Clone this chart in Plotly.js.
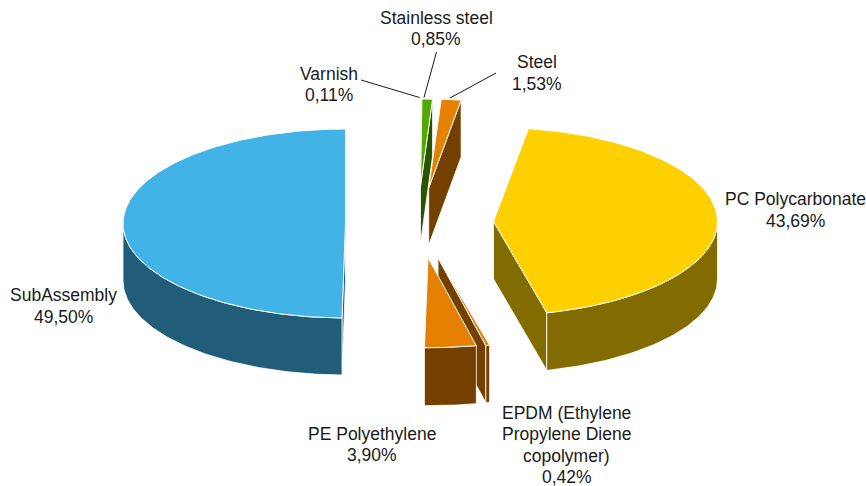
<!DOCTYPE html>
<html>
<head>
<meta charset="utf-8">
<script src="https://cdn.plot.ly/plotly-3.0.1.min.js"></script>
<style>html,body{margin:0;padding:0;background:#fff}#c{width:866px;height:486px}</style>
</head>
<body>
<div id="c"></div>
<script>
// Data (clockwise from 12 o'clock)
var materials = ['Varnish','Stainless steel','Steel','PC Polycarbonate','EPDM (Ethylene|Propylene Diene|copolymer)','PE Polyethylene','SubAssembly'];
var shares = [0.11,0.85,1.53,43.69,0.42,3.90,49.50];

// Styles
var topColors  = ['#7FB24C','#55A800','#E68000','#FFD000','#E68000','#E68000','#41B3E6'];
var wallColors = ['#2A5400','#2A5400','#734000','#826C00','#734000','#734000','#215C78'];

// Layout of the exploded pie (plot units = pixels)
var apexX = [420.5,420.5,428.7,493.5,438,428,345.5];
var apexY = [186,186,188,221.5,257.7,257.7,223.5];
var radX  = [200,200,208,224,222,228,222.5];
var radY  = [87,87,89,94,90,90,94.5];
var startTrim = [0,0,0,0,0.3,0,-0.9];   // perspective correction of the drawn edges, degrees
var endTrim   = [0,0,0,0,-0.2,-0.9,0];
var depth = [57,57,57,57.5,57,58,57];
var paintOrder = [0,1,2,4,5,3,6];
var labelX = [329,436,537,795.5,566.5,372,63];
var labelY = [84.5,28.5,73,210,445,444.5,306];
var lineGap = 21.6;
var leaderX = [[361,419.5],[436.5,424],[496,450]];
var leaderY = [[80,97.5],[52,97.5],[73,98]];

var rad = Math.PI/180;
var starts = [], ends = [], acc = 0;
shares.forEach(function(v,i){ starts.push(acc*3.6 + startTrim[i]); acc += v; ends.push(acc*3.6 + endTrim[i]); });

function pt(i, deg, h){
  return [apexX[i] + radX[i]*Math.sin(deg*rad), apexY[i] - radY[i]*Math.cos(deg*rad) + h];
}
function arc(i, a, b, h){
  var out = [], n = Math.max(2, Math.ceil(Math.abs(b-a)));
  for (var k=0;k<=n;k++) out.push(pt(i, a+(b-a)*k/n, h));
  return out;
}
function poly(points, color, lw, name){
  return {type:'scatter', mode:'lines', x:points.map(function(p){return p[0];}), y:points.map(function(p){return p[1];}),
    fill:'toself', fillcolor:color, line:{color:'#FFFFFF', width:lw, shape:'linear'},
    hoverinfo:'skip', showlegend:false, name:name};
}
function cutFace(i, deg){
  var o=[apexX[i],apexY[i]], od=[apexX[i],apexY[i]+depth[i]];
  return [o, pt(i,deg,0), pt(i,deg,depth[i]), od, o];
}

var traces = [];
paintOrder.forEach(function(i){
  var a = starts[i], b = ends[i], n = materials[i];
  if (Math.sin(a*rad) < 0) traces.push(poly(cutFace(i,a), wallColors[i], 0.8, n));
  if (Math.sin(b*rad) > 0) traces.push(poly(cutFace(i,b), wallColors[i], 0.8, n));
  var fa = Math.max(a,90), fb = Math.min(b,270);
  if (fb > fa){
    var w = arc(i,fa,fb,0).concat(arc(i,fb,fa,depth[i]));
    w.push(w[0]);
    traces.push(poly(w, wallColors[i], 0.8, n));
  }
  var t = [[apexX[i],apexY[i]]].concat(arc(i,a,b,0));
  t.push([apexX[i],apexY[i]]);
  traces.push(poly(t, topColors[i], 1, n));
});
leaderX.forEach(function(lx,k){
  traces.push({type:'scatter', mode:'lines', x:lx, y:leaderY[k], line:{color:'#1A1A1A', width:1},
    hoverinfo:'skip', showlegend:false});
});

var annotations = [];
materials.forEach(function(m,i){
  var lines = m.split('|').concat([shares[i].toFixed(2).replace('.',',') + '%']);
  lines.forEach(function(txt,k){
    annotations.push({x:labelX[i], y:labelY[i] + (k-(lines.length-1)/2)*lineGap, xref:'x', yref:'y',
      xanchor:'center', yanchor:'middle', showarrow:false, align:'center', text:txt,
      font:{family:'"Liberation Sans", Arial, sans-serif', size:17.5, color:'#1A1A1A'}});
  });
});

var hidden = {visible:false, fixedrange:true};
Plotly.newPlot('c', traces, {
  width:866, height:486, margin:{l:0,r:0,t:0,b:0},
  paper_bgcolor:'#FFFFFF', plot_bgcolor:'#FFFFFF', showlegend:false,
  xaxis:Object.assign({range:[0,866]},hidden),
  yaxis:Object.assign({range:[486,0]},hidden),
  annotations:annotations
}, {displayModeBar:false, staticPlot:true});
</script>
</body>
</html>
